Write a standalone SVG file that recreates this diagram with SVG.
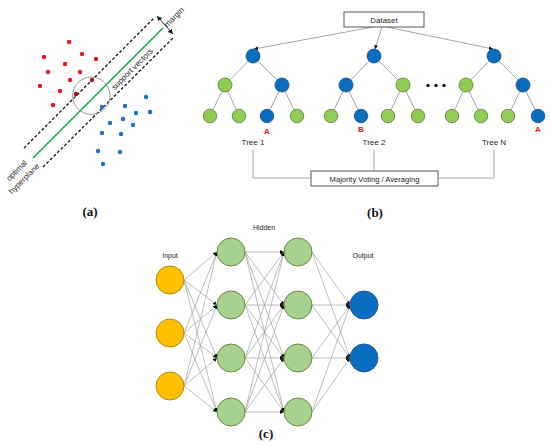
<svg xmlns="http://www.w3.org/2000/svg" width="550" height="447" viewBox="0 0 550 447">
<style>
.t{font-family:"Liberation Sans",Arial,sans-serif;fill:#262626}
.lbl{font-family:"Liberation Serif","Times New Roman",serif;font-weight:bold;font-size:13px;fill:#111;text-anchor:middle}
.rd{fill:#E8151B}
.drd{fill:#A3151B}
.bd{fill:#1B72C2}
.dash{stroke:#111;stroke-width:1.3;stroke-dasharray:3 2;fill:none}
.te{stroke:#A6A6A6;stroke-width:1;fill:none}
.bn{fill:#0A6EC0;stroke:#1F4E79;stroke-width:0.8}
.gn{fill:#8FCB55;stroke:#548235;stroke-width:0.8}
.box{fill:#fff;stroke:#595959;stroke-width:1}
.nn{stroke:#A0A0A0;stroke-width:0.7;fill:none;marker-end:url(#ah)}
.in{fill:#FFC000;stroke:#B08A10;stroke-width:1}
.hd{fill:#A9D18E;stroke:#5E8E45;stroke-width:1}
.on{fill:#0A6EC0;stroke:#2F5597;stroke-width:1}
.red{font-family:"Liberation Sans",Arial,sans-serif;font-weight:bold;font-size:8px;fill:#E8151B;text-anchor:middle}
</style>
<defs>
<marker id="ah" viewBox="0 0 6 6" refX="6" refY="3" markerWidth="4" markerHeight="4" markerUnits="userSpaceOnUse" orient="auto"><path d="M0,0 L6,3 L0,6 z" fill="#111"/></marker>
<marker id="ab" viewBox="0 0 6 6" refX="6" refY="3" markerWidth="5" markerHeight="5" markerUnits="userSpaceOnUse" orient="auto-start-reverse"><path d="M0,0 L6,3 L0,6 z" fill="#111"/></marker>
</defs>
<rect width="550" height="447" fill="#fff"/>

<!-- Panel (a) SVM -->
<g id="svm">
<line class="dash" x1="24" y1="148" x2="155" y2="17"/>
<line class="dash" x1="43" y1="167" x2="174" y2="37"/>
<line x1="33" y1="158" x2="163" y2="28" stroke="#12A84A" stroke-width="1.6"/>
<line x1="157" y1="16" x2="173" y2="34" stroke="#111" stroke-width="0.9" marker-start="url(#ab)" marker-end="url(#ab)"/>
<circle cx="91.3" cy="95.7" r="18.7" fill="none" stroke="#9A9A9A" stroke-width="1"/>
<g>
<circle class="rd" cx="69" cy="42" r="2.2"/>
<circle class="rd" cx="82" cy="54" r="2.2"/>
<circle class="rd" cx="96" cy="59" r="2.2"/>
<circle class="rd" cx="44" cy="57" r="2.2"/>
<circle class="rd" cx="65" cy="64" r="2.2"/>
<circle class="rd" cx="48" cy="72" r="2.2"/>
<circle class="rd" cx="80" cy="72" r="2.2"/>
<circle class="rd" cx="70" cy="80" r="2.2"/>
<circle class="drd" cx="92" cy="80" r="2.2"/>
<circle class="rd" cx="40" cy="86" r="2.2"/>
<circle class="rd" cx="60" cy="91" r="2.2"/>
<circle class="drd" cx="76" cy="94" r="2.2"/>
<circle class="rd" cx="53" cy="105" r="2.2"/>
</g>
<g>
<circle class="bd" cx="146" cy="97" r="2.2"/>
<circle class="bd" cx="125" cy="106" r="2.2"/>
<circle class="bd" cx="102" cy="107" r="2.2"/>
<circle class="bd" cx="136" cy="113" r="2.2"/>
<circle class="bd" cx="150" cy="112" r="2.2"/>
<circle class="bd" cx="123" cy="119" r="2.2"/>
<circle class="bd" cx="110" cy="123" r="2.2"/>
<circle class="bd" cx="133" cy="125" r="2.2"/>
<circle class="bd" cx="102" cy="133" r="2.2"/>
<circle class="bd" cx="121" cy="134" r="2.2"/>
<circle class="bd" cx="98" cy="151" r="2.2"/>
<circle class="bd" cx="120" cy="152" r="2.2"/>
<circle class="bd" cx="103" cy="164" r="2.2"/>
</g>
<text class="t" font-size="8" text-anchor="middle" transform="translate(176,19) rotate(-45)">margin</text>
<text class="t" font-size="8" text-anchor="middle" transform="translate(134,71) rotate(-45)">support vectors</text>
<text class="t" font-size="8" text-anchor="middle" transform="translate(18.5,172.5) rotate(-45)">optimal</text>
<text class="t" font-size="8" text-anchor="middle" transform="translate(26,180.5) rotate(-45)">hyperplane</text>
<text class="lbl" x="90" y="216">(a)</text>
</g>

<!-- Panel (b) Random forest -->
<g id="rf-connectors">
<line x1="373" y1="27" x2="254" y2="49" stroke="#A6A6A6" stroke-width="1" marker-end="url(#ah)"/>
<line x1="382" y1="27" x2="375" y2="49" stroke="#A6A6A6" stroke-width="1" marker-end="url(#ah)"/>
<line x1="387" y1="27" x2="493" y2="49" stroke="#A6A6A6" stroke-width="1" marker-end="url(#ah)"/>
<path class="te" d="M225,85 L253,56 L282,85 M210,116 L225,85 L239,116 M267,116 L282,85 L297,116"/>
<path class="te" d="M346,85 L374,56 L403,85 M331,116 L346,85 L361,116 M388,116 L403,85 L418,116"/>
<path class="te" d="M466,85 L494,56 L523,85 M452,116 L466,85 L481,116 M508,116 L523,85 L538,116"/>
<path class="te" d="M253,150 V178 H311 M374,150 V171 M494,150 V178 H438"/>
</g>
<g id="dataset"><rect class="box" x="344" y="12" width="80" height="15"/><text class="t" x="384" y="22.5" font-size="8" text-anchor="middle">Dataset</text></g>
<g id="tree1">
<circle class="bn" cx="253" cy="56" r="7"/>
<circle class="gn" cx="225" cy="85" r="7"/>
<circle class="bn" cx="282" cy="85" r="7"/>
<circle class="gn" cx="210" cy="116" r="6.8"/>
<circle class="gn" cx="239" cy="116" r="6.8"/>
<circle class="bn" cx="267" cy="116" r="6.8"/>
<circle class="gn" cx="297" cy="116" r="6.8"/>
<text class="red" x="267" y="134">A</text>
<text class="t" x="253" y="145" font-size="8" text-anchor="middle">Tree 1</text>
</g>
<g id="tree2">
<circle class="bn" cx="374" cy="56" r="7"/>
<circle class="bn" cx="346" cy="85" r="7"/>
<circle class="gn" cx="403" cy="85" r="7"/>
<circle class="gn" cx="331" cy="116" r="6.8"/>
<circle class="bn" cx="361" cy="116" r="6.8"/>
<circle class="gn" cx="388" cy="116" r="6.8"/>
<circle class="gn" cx="418" cy="116" r="6.8"/>
<text class="red" x="361" y="132">B</text>
<text class="t" x="374" y="145" font-size="8" text-anchor="middle">Tree 2</text>
</g>
<g id="dots">
<circle cx="428" cy="85.5" r="1.8" fill="#111"/>
<circle cx="436" cy="85.5" r="1.8" fill="#111"/>
<circle cx="444" cy="85.5" r="1.8" fill="#111"/>
</g>
<g id="treeN">
<circle class="bn" cx="494" cy="56" r="7"/>
<circle class="gn" cx="466" cy="85" r="7"/>
<circle class="bn" cx="523" cy="85" r="7"/>
<circle class="gn" cx="452" cy="116" r="6.8"/>
<circle class="gn" cx="481" cy="116" r="6.8"/>
<circle class="gn" cx="508" cy="116" r="6.8"/>
<circle class="bn" cx="538" cy="116" r="6.8"/>
<text class="red" x="538" y="132">A</text>
<text class="t" x="494" y="145" font-size="8" text-anchor="middle">Tree N</text>
</g>
<g id="voting"><rect class="box" x="311" y="171" width="127" height="15"/><text class="t" x="374.5" y="181.5" font-size="7.6" text-anchor="middle">Majority Voting / Averaging</text></g>
<text class="lbl" x="375" y="217">(b)</text>

<!-- Panel (c) Neural network -->
<g id="nn-connectors">
<path class="nn" d="M184,280 L217,252"/><path class="nn" d="M184,280 L217,305"/><path class="nn" d="M184,280 L217,358"/><path class="nn" d="M184,280 L217,412"/>
<path class="nn" d="M184,333 L217,252"/><path class="nn" d="M184,333 L217,305"/><path class="nn" d="M184,333 L217,358"/><path class="nn" d="M184,333 L217,412"/>
<path class="nn" d="M184,386 L217,252"/><path class="nn" d="M184,386 L217,305"/><path class="nn" d="M184,386 L217,358"/><path class="nn" d="M184,386 L217,412"/>
<path class="nn" d="M245,252 L284,252"/><path class="nn" d="M245,252 L284,305"/><path class="nn" d="M245,252 L284,358"/><path class="nn" d="M245,252 L284,412"/>
<path class="nn" d="M245,305 L284,252"/><path class="nn" d="M245,305 L284,305"/><path class="nn" d="M245,305 L284,358"/><path class="nn" d="M245,305 L284,412"/>
<path class="nn" d="M245,358 L284,252"/><path class="nn" d="M245,358 L284,305"/><path class="nn" d="M245,358 L284,358"/><path class="nn" d="M245,358 L284,412"/>
<path class="nn" d="M245,412 L284,252"/><path class="nn" d="M245,412 L284,305"/><path class="nn" d="M245,412 L284,358"/><path class="nn" d="M245,412 L284,412"/>
<path class="nn" d="M312,252 L350,305"/><path class="nn" d="M312,252 L350,358"/>
<path class="nn" d="M312,305 L350,305"/><path class="nn" d="M312,305 L350,358"/>
<path class="nn" d="M312,358 L350,305"/><path class="nn" d="M312,358 L350,358"/>
<path class="nn" d="M312,412 L350,305"/><path class="nn" d="M312,412 L350,358"/>
</g>
<g id="input-layer">
<text class="t" x="170" y="258" font-size="7" text-anchor="middle">Input</text>
<circle class="in" cx="170" cy="280" r="14"/>
<circle class="in" cx="170" cy="333" r="14"/>
<circle class="in" cx="170" cy="386" r="14"/>
</g>
<g id="hidden-layer-1">
<circle class="hd" cx="231" cy="252" r="14"/>
<circle class="hd" cx="231" cy="305" r="14"/>
<circle class="hd" cx="231" cy="358" r="14"/>
<circle class="hd" cx="231" cy="412" r="14"/>
</g>
<text class="t" x="264" y="230" font-size="7" text-anchor="middle">Hidden</text>
<g id="hidden-layer-2">
<circle class="hd" cx="298" cy="252" r="14"/>
<circle class="hd" cx="298" cy="305" r="14"/>
<circle class="hd" cx="298" cy="358" r="14"/>
<circle class="hd" cx="298" cy="412" r="14"/>
</g>
<g id="output-layer">
<text class="t" x="363" y="258" font-size="7" text-anchor="middle">Output</text>
<circle class="on" cx="364" cy="305" r="14"/>
<circle class="on" cx="364" cy="358" r="14"/>
</g>
<text class="lbl" x="266" y="438">(c)</text>
</svg>
